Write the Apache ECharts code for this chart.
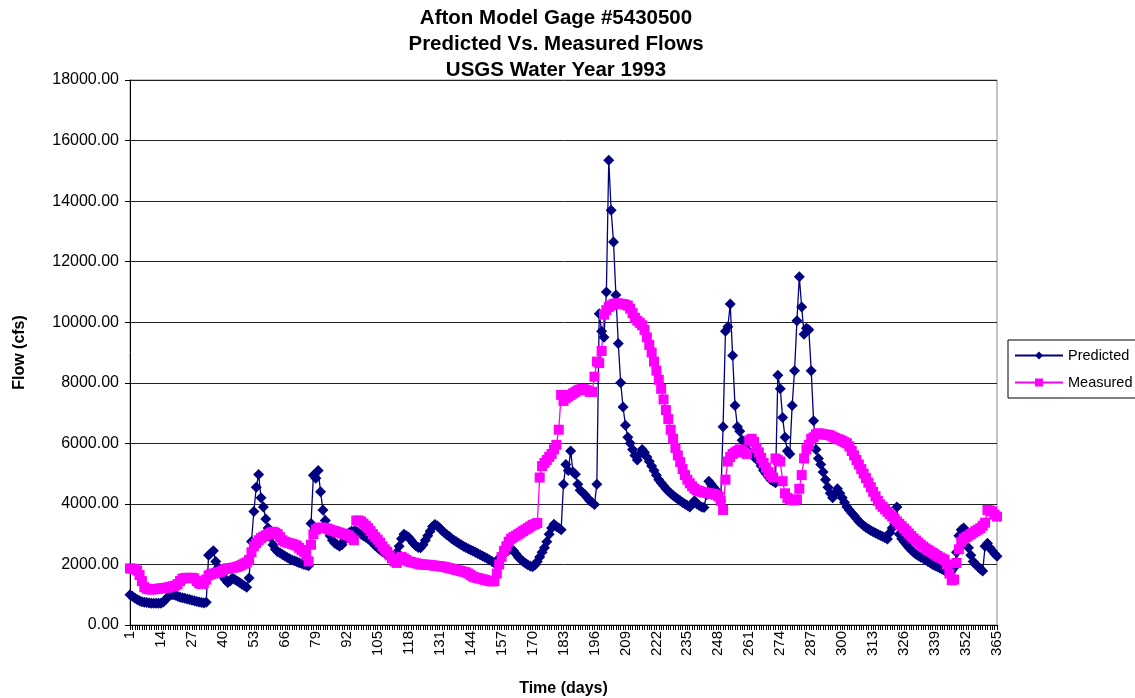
<!DOCTYPE html>
<html>
<head>
<meta charset="utf-8">
<script src="https://cdn.jsdelivr.net/npm/echarts@6/dist/echarts.min.js"></script>
<style>html,body{margin:0;padding:0;background:#fff}#c{width:1135px;height:698px}</style>
</head>
<body>
<div id="c"></div>
<script>
var titleLines = ['Afton Model Gage #5430500', 'Predicted Vs. Measured Flows', 'USGS Water Year 1993'];
var days = [];
for (var i = 1; i <= 365; i++) days.push(String(i));

var predicted = [
1000, 950, 890, 840, 800, 770, 750, 740, 730, 720,
720, 715, 715, 720, 760, 850, 930, 990, 1000, 980,
950, 920, 900, 880, 860, 840, 820, 800, 780, 760,
740, 730, 750, 2300, 2380, 2450, 2100, 1900, 1750, 1600,
1500, 1400, 1450, 1550, 1500, 1450, 1400, 1350, 1300, 1250,
1550, 2760, 3750, 4550, 4970, 4200, 3900, 3500, 3200, 2900,
2650, 2500, 2420, 2380, 2330, 2280, 2230, 2190, 2150, 2120,
2090, 2060, 2030, 2000, 1980, 1960, 3350, 4950, 4850, 5100,
4400, 3800, 3450, 3100, 2950, 2800, 2700, 2650, 2600, 2650,
2800, 2950, 3050, 3100, 3100, 3100, 3050, 3000, 2950, 2900,
2850, 2780, 2700, 2620, 2550, 2480, 2420, 2370, 2320, 2280,
2250, 2250, 2400, 2600, 2850, 3000, 2950, 2900, 2800, 2700,
2620, 2560, 2550, 2650, 2800, 2950, 3100, 3250, 3320, 3280,
3200, 3120, 3050, 2980, 2920, 2860, 2800, 2750, 2700, 2650,
2600, 2560, 2520, 2480, 2440, 2400, 2360, 2320, 2280, 2240,
2200, 2150, 2100, 2050, 2120, 2200, 2280, 2350, 2420, 2480,
2530, 2450, 2350, 2250, 2170, 2100, 2040, 1990, 1950, 1920,
1980, 2100, 2250, 2400, 2550, 2750, 3000, 3200, 3330, 3250,
3200, 3150, 4650, 5300, 5100, 5750, 5050, 4980, 4650, 4450,
4380, 4300, 4200, 4100, 4050, 3980, 4650, 10280, 9700, 9500,
11000, 15350, 13700, 12650, 10900, 9300, 8000, 7200, 6600, 6200,
6000, 5800, 5600, 5450, 5650, 5800, 5700, 5550, 5400, 5250,
5100, 4950, 4800, 4700, 4600, 4500, 4420, 4350, 4280, 4220,
4160, 4100, 4050, 4000, 3950, 3900, 4000, 4100, 4000, 3950,
3900, 3880, 4300, 4750, 4650, 4550, 4450, 4350, 4100, 6550,
9700, 9850, 10600, 8900, 7250, 6550, 6400, 6100, 5900, 5800,
5700, 5620, 5550, 5480, 5400, 5250, 5100, 5000, 4900, 4800,
4750, 4700, 8250, 7800, 6850, 6200, 5750, 5650, 7250, 8400,
10050, 11500, 10500, 9600, 9800, 9750, 8400, 6750, 5800, 5500,
5300, 5050, 4800, 4550, 4350, 4200, 4350, 4500, 4350, 4200,
4050, 3900, 3800, 3700, 3620, 3520, 3420, 3350, 3280, 3220,
3170, 3120, 3080, 3040, 3000, 2960, 2920, 2880, 2840, 3050,
3200, 3350, 3900, 3000, 2850, 2750, 2650, 2560, 2480, 2400,
2340, 2290, 2240, 2200, 2150, 2100, 2050, 2000, 1960, 1920,
1880, 1840, 1800, 1750, 1720, 1800, 1900, 2400, 2950, 3150,
3200, 2900, 2550, 2300, 2100, 2000, 1930, 1850, 1780, 2600,
2700, 2550, 2450, 2350, 2270
];

var measured = [
1870, 1860, 1850, 1800, 1650, 1450, 1250, 1200, 1180, 1170,
1180, 1190, 1200, 1210, 1220, 1230, 1240, 1260, 1280, 1300,
1350, 1450, 1530, 1550, 1560, 1550, 1560, 1540, 1450, 1380,
1350, 1380, 1500, 1640, 1680, 1700, 1720, 1740, 1760, 1800,
1850, 1870, 1880, 1890, 1900, 1920, 1950, 1990, 2030, 2070,
2150, 2400, 2600, 2700, 2800, 2870, 2920, 2960, 3000, 3050,
3080, 3050, 3000, 2900, 2800, 2750, 2720, 2700, 2680, 2650,
2620, 2550, 2480, 2420, 2300, 2100, 2650, 3000, 3150, 3200,
3220, 3210, 3200, 3180, 3150, 3120, 3100, 3070, 3050, 3020,
3000, 2980, 2950, 2870, 2800, 3450, 3450, 3420, 3350, 3280,
3200, 3100, 3000, 2900, 2820, 2720, 2600, 2500, 2420, 2300,
2200, 2100, 2050, 2150, 2250, 2200, 2150, 2100, 2080, 2060,
2040, 2020, 2000, 2000, 1990, 1990, 1980, 1970, 1960, 1950,
1940, 1930, 1920, 1900, 1880, 1860, 1840, 1820, 1800, 1780,
1760, 1740, 1700, 1650, 1600, 1570, 1550, 1530, 1510, 1490,
1470, 1450, 1440, 1450, 1700, 2000, 2250, 2450, 2600, 2750,
2850, 2900, 2950, 3000, 3050, 3100, 3150, 3200, 3250, 3300,
3330, 3370, 4870, 5250, 5350, 5450, 5550, 5650, 5800, 5950,
6450, 7600, 7400, 7500, 7550, 7600, 7650, 7700, 7750, 7780,
7800, 7780, 7750, 7700, 7700, 8200, 8700, 8650, 9050, 10250,
10400, 10500, 10550, 10600, 10620, 10620, 10610, 10600, 10580, 10550,
10450, 10300, 10150, 10050, 9980, 9900, 9750, 9500, 9250, 9000,
8700, 8400, 8100, 7800, 7450, 7100, 6800, 6450, 6150, 5850,
5600, 5380, 5150, 4950, 4800, 4680, 4580, 4500, 4450, 4420,
4400, 4380, 4370, 4350, 4340, 4330, 4300, 4250, 4100, 3800,
4800, 5400, 5550, 5650, 5700, 5750, 5800, 5750, 5700, 5650,
6100, 6150, 6050, 5850, 5700, 5520, 5350, 5200, 5050, 4950,
4870, 5500, 5450, 5400, 4750, 4350, 4200, 4150, 4120, 4120,
4150, 4500, 4950, 5500, 5800, 5950, 6150, 6200, 6300, 6330,
6320, 6300, 6290, 6280, 6260, 6220, 6180, 6150, 6120, 6080,
6040, 6000, 5900, 5750, 5600, 5450, 5300, 5150, 5000, 4850,
4700, 4550, 4400, 4250, 4100, 3980, 3900, 3820, 3740, 3660,
3580, 3500, 3420, 3340, 3260, 3180, 3100, 3020, 2940, 2860,
2790, 2720, 2650, 2590, 2530, 2480, 2430, 2380, 2330, 2280,
2230, 2190, 2150, 2000, 1700, 1480, 1500, 2050, 2500, 2750,
2850, 2900, 2950, 3000, 3050, 3100, 3150, 3200, 3280, 3380,
3800, 3780, 3750, 3650, 3580
];

var chart = echarts.init(document.getElementById('c'), null, {renderer: 'canvas'});
var font = 'Liberation Sans, Arial, Helvetica, sans-serif';
chart.setOption({
  animation: false,
  backgroundColor: '#ffffff',
  textStyle: {fontFamily: font, color: '#000'},
  title: {
    text: titleLines.join('\n'),
    left: 551,
    top: 0,
    textAlign: 'center',
    textStyle: {fontFamily: font, fontSize: 20.5, fontWeight: 'bold', color: '#000', lineHeight: 26}
  },
  legend: {
    orient: 'vertical',
    left: 1008,
    top: 340,
    width: 140,
    padding: [8, 10, 8, 6],
    itemGap: 12,
    itemWidth: 48,
    itemHeight: 10,
    borderColor: '#000',
    borderWidth: 1,
    textStyle: {fontFamily: font, fontSize: 14.5, color: '#000'},
    data: ['Predicted', 'Measured']
  },
  grid: {left: 130, right: 138, top: 80, bottom: 73, containLabel: false, outerBoundsMode: 'none', show: true, borderColor: '#888', borderWidth: 1},
  xAxis: {
    type: 'category',
    data: days,
    boundaryGap: false,
    name: 'Time (days)',
    nameLocation: 'middle',
    nameGap: 56,
    nameTextStyle: {fontFamily: font, fontSize: 16, fontWeight: 'bold', color: '#000'},
    axisLine: {lineStyle: {color: '#000', width: 1}},
    axisTick: {show: true, interval: 0, length: 5, lineStyle: {color: '#000'}},
    axisLabel: {interval: 12, rotate: 90, fontSize: 15, color: '#000', fontFamily: font, margin: 6},
    splitLine: {show: false}
  },
  yAxis: {
    type: 'value',
    min: 0,
    max: 18000,
    interval: 2000,
    name: 'Flow (cfs)',
    nameLocation: 'middle',
    nameRotate: 90,
    nameGap: 102,
    nameTextStyle: {fontFamily: font, fontSize: 16, fontWeight: 'bold', color: '#000'},
    axisLine: {show: true, lineStyle: {color: '#000', width: 1}},
    axisTick: {show: true, length: 5, lineStyle: {color: '#000'}},
    axisLabel: {fontSize: 16, color: '#000', fontFamily: font, margin: 11, formatter: function (v) { return v.toFixed(2); }},
    splitLine: {show: true, lineStyle: {color: '#222', width: 1}}
  },
  series: [
    {
      name: 'Predicted',
      type: 'line',
      data: predicted,
      symbol: 'diamond',
      symbolSize: 11,
      showAllSymbol: true,
      lineStyle: {color: '#000080', width: 1.3},
      itemStyle: {color: '#000080', borderWidth: 0}
    },
    {
      name: 'Measured',
      type: 'line',
      data: measured,
      symbol: 'rect',
      symbolSize: 10,
      showAllSymbol: true,
      lineStyle: {color: '#FF00FF', width: 1.3},
      itemStyle: {color: '#FF00FF', borderWidth: 0}
    }
  ]
});
</script>
</body>
</html>
